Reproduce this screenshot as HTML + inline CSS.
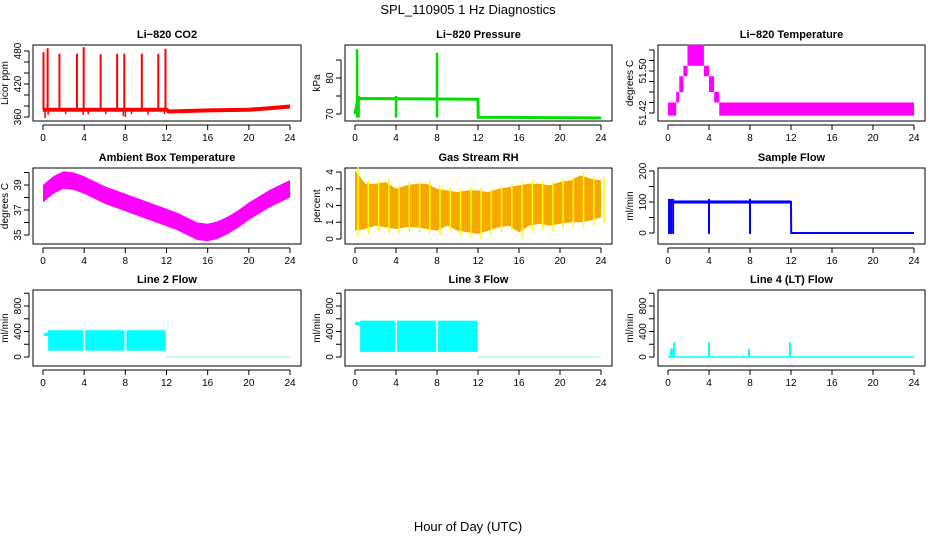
<!DOCTYPE html>
<html><head><meta charset="utf-8"><style>
body{margin:0;background:#fff}
svg text{font-family:"Liberation Sans",sans-serif}
</style></head><body>
<svg id="c" width="936" height="540" viewBox="0 0 936 540" xmlns="http://www.w3.org/2000/svg">
<text x="468" y="14" font-size="13" text-anchor="middle">SPL_110905  1 Hz Diagnostics</text>
<text x="468" y="531" font-size="13" text-anchor="middle">Hour of Day (UTC)</text>
</svg>
<script>
// ---- data ----
const xTicks=[0,4,8,12,16,20,24];
const co2BaseT=[0,12,12.2,16,20,22,24];
const co2BaseV=[373,373,370,372,373,376,379];
const co2SpikeT=[0.05,0.45,1.6,3.3,3.95,5.6,7.2,7.9,9.6,11.2,11.9];
const co2SpikeV=[478,485,475,475,487,474,475,475,475,475,484];
const co2DipT=[0.2,0.5,2.2,3.9,4.4,6.1,7.8,8.0,8.6,10.2,11.8];
const co2DipV=[358,364,365,364,365,365,362,360,365,364,365];
const presT=[0,0.3,12,12.02,24];
const presV=[70,74.3,74.1,69.1,68.9];
const presSpikeT=[0.2,0.35,4,8];
const presSpikeHi=[88,75,75,87];
const presSpikeLo=[69,69,69,69];
const ltStart=[0,0.8,1.1,1.5,1.9,3.5,4.0,4.5,5.0];
const ltEnd=[0.8,1.1,1.5,1.9,3.5,4.0,4.5,5.0,24];
const ltLo=[51.415,51.44,51.46,51.49,51.51,51.49,51.46,51.44,51.415];
const ltHi=[51.44,51.46,51.49,51.51,51.55,51.51,51.49,51.46,51.44];
const ambT=[0,1,2,3,4,5,6,7,8,9,10,11,12,13,14,15,16,17,18,19,20,21,22,23,24];
const ambV=[38.3,39.0,39.4,39.3,39.0,38.6,38.2,37.9,37.6,37.3,37.0,36.7,36.4,36.1,35.7,35.3,35.2,35.4,35.8,36.3,36.9,37.4,37.9,38.3,38.7];
const rhLo=[0.5,0.6,0.8,0.7,0.6,0.7,0.7,0.6,0.5,0.8,0.5,0.4,0.3,0.5,0.7,0.8,0.4,0.8,0.9,0.8,0.9,1.0,1.0,1.1,1.3];
const rhHi=[4.1,3.3,3.3,3.4,3.0,3.2,3.3,3.3,3.0,2.9,2.8,2.9,2.9,2.8,3.0,3.1,3.2,3.3,3.3,3.2,3.4,3.5,3.8,3.6,3.5];
const sfT=[0,0.6,12,12.02,24];
const sfV=[100,100,100,0,0];
const sfDipT=[0.1,0.3,0.5,4,8];
const l2Lo=[100,100,100];const l2Hi=[420,420,420];
const l3Lo=[80,80,80];const l3Hi=[570,570,570];
const blockS=[0.5,4.1,8.1];const blockE=[3.9,7.9,11.9];
const l4T=[0.3,0.5,0.6,4,7.9,11.9];
const l4V=[130,130,230,230,130,230];
// ---- layout ----
const NS='http://www.w3.org/2000/svg';
const svg=document.getElementById('c');
const L=[33,345,658],R=[301,612,925],T=[45,168,290],B=[121,244,366];
function el(tag,a,p){const e=document.createElementNS(NS,tag);for(const k in a)e.setAttribute(k,a[k]);(p||svg).appendChild(e);return e;}
function panel(r,c,title,ylab,v0,p0,v1,p1,yt,ylabels,name,dec){
  const g=el('g',{});
  
  
  const l=L[c],rr=R[c],t=T[r],b=B[r];
  const sx=x=>l+10+(x/24)*(rr-l-21);
  const sy=v=>p0+(v-v0)*(p1-p0)/(v1-v0);
  const tt=el('text',{x:(l+rr)/2,y:t-7,'font-size':11,'font-weight':'bold','text-anchor':'middle'},g);tt.textContent=title;
  
  
  const box=el('rect',{x:l,y:t,width:rr-l,height:b-t,fill:'none',stroke:'#000','stroke-width':1},g);
  
  
  el('line',{x1:sx(0),x2:sx(24),y1:b+4,y2:b+4,stroke:'#000'},g);
  xTicks.forEach(x=>{el('line',{x1:sx(x),x2:sx(x),y1:b+4,y2:b+9,stroke:'#000'},g);
    const tx=el('text',{x:sx(x),y:b+20,'font-size':10,'text-anchor':'middle'},g);tx.textContent=x;
    
    });
  el('line',{x1:l-4,x2:l-4,y1:sy(yt[0]),y2:sy(yt[yt.length-1]),stroke:'#000'},g);
  yt.forEach(v=>el('line',{x1:l-9,x2:l-4,y1:sy(v),y2:sy(v),stroke:'#000'},g));
  ylabels.forEach(v=>{const y=sy(v);const tx=el('text',{x:l-12,y:y,'font-size':10,'text-anchor':'middle',transform:`rotate(-90 ${l-12} ${y})`},g);tx.textContent=dec?v.toFixed(dec):v;
    
    });
  const ym=(t+b)/2;const yl=el('text',{x:l-25,y:ym,'font-size':10,'text-anchor':'middle',transform:`rotate(-90 ${l-25} ${ym})`},g);yl.textContent=ylab;
  
  
  return {g,sx,sy};
}
function poly(p,ts,vs,col,w,name){const d=ts.map((t,i)=>p.sx(t).toFixed(1)+','+p.sy(vs[i]).toFixed(1)).join(' ');
  const e=el('polyline',{points:d,fill:'none',stroke:col,'stroke-width':w},p.g);
  
  return e;}
function vbar(p,t,lo,hi,col,w,name){const e=el('line',{x1:p.sx(t),x2:p.sx(t),y1:p.sy(lo),y2:p.sy(hi),stroke:col,'stroke-width':w},p.g);
  
  return e;}
function rect(p,t0,t1,lo,hi,col,name){const e=el('rect',{x:p.sx(t0),y:p.sy(hi),width:p.sx(t1)-p.sx(t0),height:p.sy(lo)-p.sy(hi),fill:col},p.g);
  
  return e;}
// CO2
let p=panel(0,0,'Li\u2212820 CO2','Licor ppm',360,117,480,51,[360,380,400,420,440,460,480],[360,420,480],'co2-panel');
co2SpikeT.forEach((t,i)=>vbar(p,t,372,co2SpikeV[i],'#f00',2,'co2-spike'));
co2DipT.forEach((t,i)=>vbar(p,t,373,co2DipV[i],'#f00',1.5,'co2-dip'));
poly(p,co2BaseT,co2BaseV,'#f00',4,'co2-line');
// Pressure
p=panel(0,1,'Li\u2212820 Pressure','kPa',70,114,80,78,[70,75,80,85],[70,80],'pressure-panel');
poly(p,presT,presV,'#0d0',3,'pressure-line');
presSpikeT.forEach((t,i)=>vbar(p,t,presSpikeLo[i],presSpikeHi[i],'#0d0',2.5,'pressure-spike'));
// Li temp
p=panel(0,2,'Li\u2212820 Temperature','degrees C',51.42,113,51.54,50,[51.42,51.44,51.46,51.48,51.50,51.52,51.54],[51.42,51.50],'licor-temp-panel',2);
ltStart.forEach((s,i)=>rect(p,s,ltEnd[i],ltLo[i],ltHi[i],'#f0f','licor-temp-band'));
// Ambient
p=panel(1,0,'Ambient Box Temperature','degrees C',35,235,39,185,[35,36,37,38,39,40],[35,37,39],'ambient-temp-panel');
{const up=ambT.map((t,i)=>p.sx(t)+','+p.sy(ambV[i]+0.7));const dn=ambT.map((t,i)=>p.sx(t)+','+p.sy(ambV[i]-0.7)).reverse();
 const e=el('polygon',{points:up.concat(dn).join(' '),fill:'#f0f'},p.g);
 
 }
// RH
p=panel(1,1,'Gas Stream RH','percent',0,239,4,172,[0,1,2,3,4],[0,1,2,3,4],'rh-panel');
{const up=ambT.map((t,i)=>p.sx(t)+','+p.sy(rhHi[i]));const dn=ambT.map((t,i)=>p.sx(t)+','+p.sy(rhLo[i])).reverse();
 const e=el('polygon',{points:up.concat(dn).join(' '),fill:'#f5a800'},p.g);
 
 
 ambT.forEach((t,i)=>{vbar(p,t+0.3,rhLo[i]-0.3,rhHi[i]+0.2,'#ff0',1.5,'rh-spike');});}
// Sample flow
p=panel(1,2,'Sample Flow','ml/min',0,233,200,171,[0,50,100,150,200],[0,100,200],'sample-flow-panel');
rect(p,0.6,12,95,105,'#00f','sample-flow-band');
poly(p,sfT,sfV,'#00f',2,'sample-flow-line');
sfDipT.forEach(t=>vbar(p,t,-3,110,'#00f',2,'sample-flow-dip'));
// Line 2
const rt=[0,200,400,600,800,1000],rl=[0,400,800];
p=panel(2,0,'Line 2 Flow','ml/min',0,357,800,306,rt,rl,'line2-flow-panel');
rect(p,0.1,0.6,330,380,'#0ff','line2-start');
blockS.forEach((s,i)=>rect(p,s,blockE[i],l2Lo[i],l2Hi[i],'#0ff','line2-block'));
poly(p,[12,24],[0,0],'#8ee',1,'line2-zero');
// Line 3
p=panel(2,1,'Line 3 Flow','ml/min',0,357,800,306,rt,rl,'line3-flow-panel');
rect(p,0,0.6,500,550,'#0ff','line3-start');
blockS.forEach((s,i)=>rect(p,s,blockE[i],l3Lo[i],l3Hi[i],'#0ff','line3-block'));
poly(p,[12,24],[0,0],'#8ee',1,'line3-zero');
// Line 4
p=panel(2,2,'Line 4 (LT) Flow','ml/min',0,357,800,306,rt,rl,'line4-flow-panel');
poly(p,[0,24],[0,0],'#0ff',1.5,'line4-zero');
l4T.forEach((t,i)=>vbar(p,t,0,l4V[i],'#0ff',2,'line4-spike'));
</script>
</body></html>
